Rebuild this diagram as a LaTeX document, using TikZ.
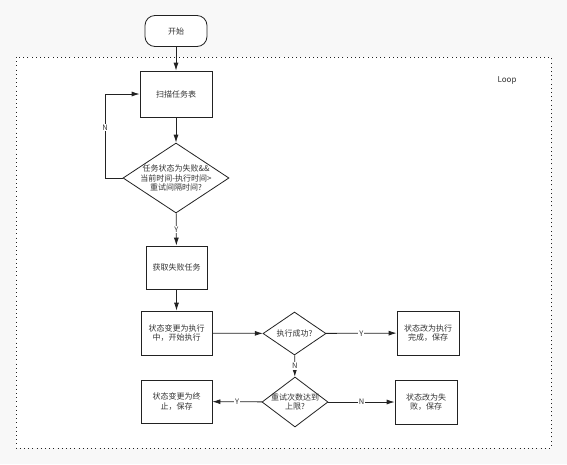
\documentclass[tikz,border=0pt]{standalone}
\usepackage{fontspec}
\setmainfont{Noto Sans CJK SC}
\usepackage{tikz}
\usetikzlibrary{positioning, arrows.meta, shapes.geometric}
\tikzstyle{chart} = [x = 1pt, y = -1pt, font=\fontsize{8}{9.5}\selectfont]
\definecolor{lineColor}{RGB}{34,34,34}
\definecolor{textColor}{RGB}{51,51,51}
\definecolor{pageColor}{RGB}{248,248,248}
\tikzstyle{loopStyle} = [draw=lineColor, fill=white, line width=.9pt, dash pattern=on 1pt off 3.2pt]
\tikzstyle{startStyle} = [draw=lineColor, fill=white, rounded corners = 10pt, thick, text=textColor, inner sep=0pt]
\tikzstyle{boxStyle} = [draw=lineColor, fill=white, thick, text=textColor, align=center, inner sep=0pt]
\tikzstyle{decisionStyle} = [diamond, draw=lineColor, fill=white, thick, inner sep=0pt]
\tikzstyle{decisionText} = [text=textColor, align=center, inner sep=0pt]
\tikzstyle{flow} = [draw=lineColor, thick, -{Latex[length=8pt, width=5pt]}]
\tikzstyle{flowLabel} = [fill=white, text=textColor, inner sep=1pt, font=\fontsize{7.5}{8}\selectfont]
\newcommand{\processBox}[5]{\node [boxStyle, minimum width=#3, minimum height=#4] (#1) at (#2) {#5};}
\newcommand{\decisionBox}[5]{\node [decisionStyle, minimum width=#3, minimum height=#4] (#1) at (#2) {}; \node [decisionText] (#1Text) at (#1) {#5};}
\begin{document}
\begin{tikzpicture}[chart]
  \fill [pageColor] (0,0) rectangle (567,464);
  \useasboundingbox (0,0) rectangle (567,464);
  \draw [loopStyle] (16,57) rectangle (551,448);
  \node [text=textColor] (loopLabel) at (507,80) {Loop};
  \node [startStyle, minimum width=62, minimum height=31] (start) at (176,31) {开始};
  \processBox{scan}{176,94}{72}{46}{扫描任务表}
  \decisionBox{check}{176,178}{106}{70}{任务状态为失败\&\&\\当前时间-执行时间>\\重试间隔时间?}
  \processBox{fetch}{176.5,267.5}{61}{43}{获取失败任务}
  \processBox{run}{176.5,333}{71}{44}{状态变更为执行\\中，开始执行}
  \decisionBox{success}{294.5,333.5}{63}{43}{执行成功?}
  \decisionBox{retry}{295,402}{66}{50}{重试次数达到\\上限?}
  \processBox{stop}{176.5,401.5}{71}{43}{状态变更为终\\止，保存}
  \processBox{done}{428,333}{62}{44}{状态改为执行\\完成，保存}
  \processBox{fail}{426,402}{62}{44}{状态改为失\\败，保存}
  \coordinate (loopCorner) at (105,178);
  \draw [flow] (start) -- (scan);
  \draw [flow] (scan) -- (check);
  \draw [flow] (check.west) -- (loopCorner) |- node [flowLabel, pos=.3] {N} (scan.west);
  \draw [flow] (check) -- node [flowLabel, pos=.5] {Y} (fetch);
  \draw [flow] (fetch) -- (run);
  \draw [flow] (run) -- (success);
  \draw [flow] (success) -- node [flowLabel] {Y} (done);
  \draw [flow] (success) -- node [flowLabel] {N} (retry);
  \draw [flow] (retry) -- node [flowLabel] {Y} (stop);
  \draw [flow] (retry) -- node [flowLabel] {N} (fail);
\end{tikzpicture}
\end{document}
